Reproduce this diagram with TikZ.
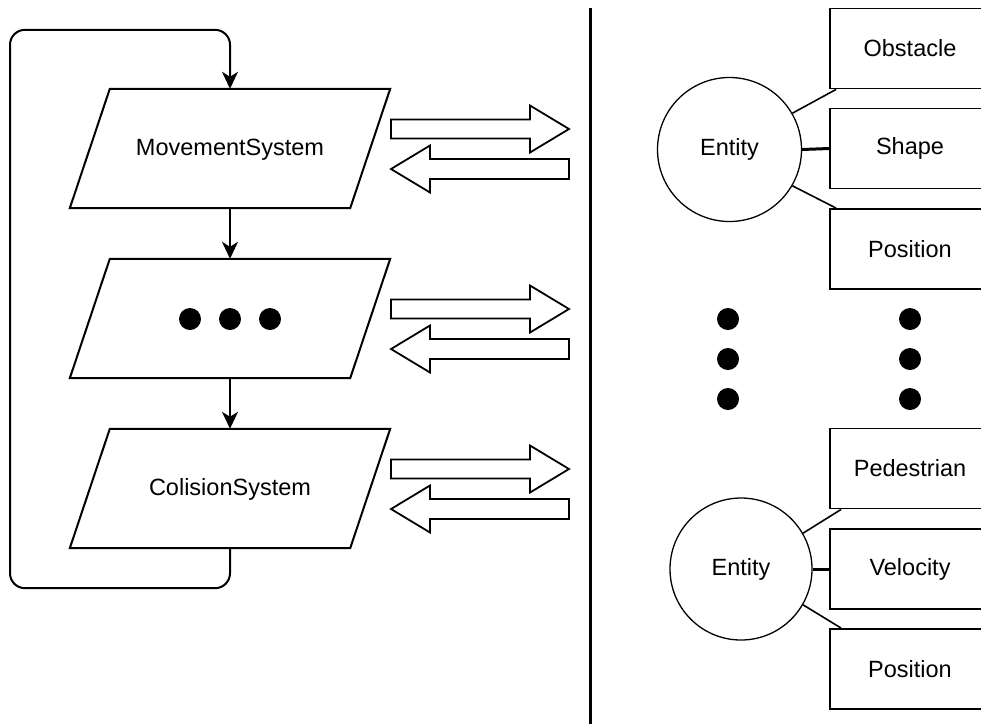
\documentclass[tikz,border=0pt]{standalone}
\usepackage{fontspec}
\setmainfont{Liberation Sans}
\usetikzlibrary{arrows.meta,calc}
\newcommand\myRarrow[1]{\draw[blk] (391,#1-9.5) -- (530,#1-9.5) -- (530,#1-23.5) -- (569,#1) -- (530,#1+23.5) -- (530,#1+9.5) -- (391,#1+9.5) -- cycle;}
\newcommand\myLarrow[1]{\draw[blk] (569,#1-10) -- (430,#1-10) -- (430,#1-23.5) -- (391,#1) -- (430,#1+23.5) -- (430,#1+10) -- (569,#1+10) -- cycle;}
\newcommand\myPara[1]{\draw[flow] ([xshift=20pt]#1.north west) -- ([xshift=20pt]#1.north east) -- ([xshift=-20pt]#1.south east) -- ([xshift=-20pt]#1.south west) -- cycle;}
\begin{document}
\begin{tikzpicture}[x=1pt,y=-1pt,
  every node/.style={font=\fontsize{23.5}{27}\selectfont},
  para/.style={minimum width=280pt, minimum height=119pt, inner sep=0pt},
  attr/.style={draw, line width=1.8pt, minimum width=160pt, minimum height=80pt, inner sep=0pt},
  ent/.style={draw, circle, line width=1.3pt, minimum size=144pt, inner sep=0pt},
  flow/.style={line width=2pt, line join=miter},
  link/.style={line width=1.6pt},
  blk/.style={draw, fill=white, line width=1.8pt, line join=miter},
  tip/.style={-{Stealth[length=17pt,width=16pt,inset=5pt]}}
]
\useasboundingbox (0,0) rectangle (981,724);

% left flow chart
\node[para] (p1) at (230,149.5) {MovementSystem};
\node[para] (p2) at (230,318.5) {};
\node[para] (p3) at (230,489.5) {ColisionSystem};
\draw[flow] ([xshift=20pt,yshift=1pt]p1.north west) -- ([xshift=20pt,yshift=1pt]p1.north east) -- ([xshift=-20pt,yshift=1pt]p1.south east) -- ([xshift=-20pt,yshift=1pt]p1.south west) -- cycle;
\myPara{p2}
\draw[flow] ([xshift=20pt,yshift=1pt]p3.north west) -- ([xshift=20pt,yshift=1pt]p3.north east) -- ([xshift=-20pt,yshift=1pt]p3.south east) -- ([xshift=-20pt,yshift=1pt]p3.south west) -- cycle;
\fill (190,319) circle (11pt) (230,319) circle (11pt) (270,319) circle (11pt);

\draw[flow,tip] ([yshift=1pt]p1.south) -- (p2.north);
\draw[flow,tip] (p2.south) -- ([yshift=1pt]p3.north);
\draw[flow,tip,rounded corners=15pt] ([yshift=1pt]p3.south) -- ++(0,40) -| ($(p1.north)+(-220,-60)$) -| ([yshift=1pt]p1.north);

% block arrows
\myRarrow{129}
\myLarrow{169}
\myRarrow{309}
\myLarrow{349}
\myRarrow{469}
\myLarrow{509}

% separator
\coordinate (s1) at (590.5,8);
\coordinate (s2) at (590.5,724);
\draw[line width=3pt] (s1) -- (s2);

% right side, top entity
\node[ent] (e1) at (729.5,149.5) {Entity};
\node[attr] (a1) at (910,48.5) {Obstacle};
\node[attr] (a2) at (910,148.5) {Shape};
\node[attr] (a3) at (910,249) {Position};
\draw[link] (e1.30) -- ([xshift=7pt]a1.south west);
\draw[line width=3pt] (e1.east) -- (a2.west);
\draw[link] (e1.-30) -- ([xshift=7pt]a3.north west);

% dots
\foreach \yy in {319,359,399} {
  \fill (728,\yy) circle (11pt);
  \fill (910,\yy) circle (11pt);
}

% right side, bottom entity
\node[ent, minimum size=142pt] (e2) at (741,569) {Entity};
\node[attr] (b1) at (910,468.5) {Pedestrian};
\node[attr] (b2) at (910,569) {Velocity};
\node[attr] (b3) at (910,669) {Position};
\draw[link] (e2.30) -- ([xshift=12pt]b1.south west);
\draw[line width=3pt] (e2.east) -- (b2.west);
\draw[link] (e2.-30) -- ([xshift=12pt]b3.north west);
\end{tikzpicture}
\end{document}
